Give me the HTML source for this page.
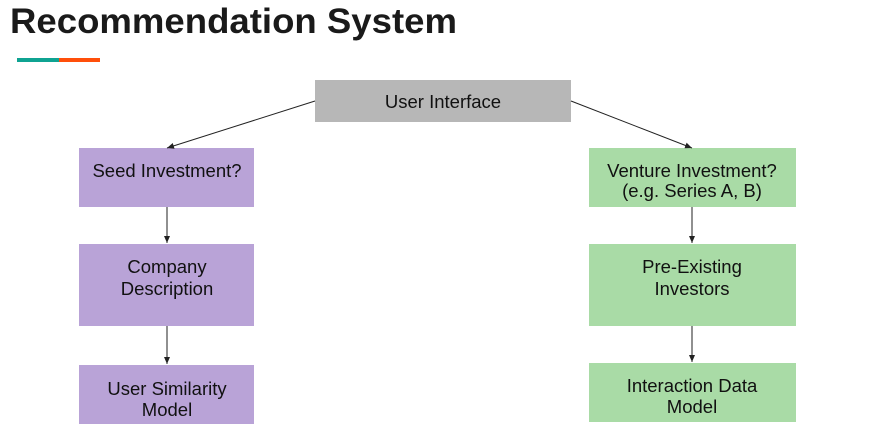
<!DOCTYPE html>
<html><head><meta charset="utf-8"><style>
html,body{margin:0;padding:0;background:#fff;}
svg{display:block;}
</style></head><body>
<svg width="875" height="446" viewBox="0 0 875 446" xmlns="http://www.w3.org/2000/svg">
<defs><marker id="a" markerWidth="8" markerHeight="8" refX="7" refY="4" orient="auto" markerUnits="userSpaceOnUse"><path d="M0,1 L7,4 L0,7 z" fill="#222"/></marker></defs>
<text x="10" y="33" font-family="Liberation Sans, sans-serif" font-weight="bold" font-size="35" fill="#1a1a1a" textLength="447" lengthAdjust="spacingAndGlyphs">Recommendation System</text>
<rect x="17" y="58" width="42" height="4" fill="#0fa392"/>
<rect x="59" y="58" width="41" height="4" fill="#ff4f0a"/>
<rect x="315" y="80" width="256" height="42" fill="#b7b7b7"/>
<rect x="79" y="148" width="175" height="59" fill="#b9a3d7"/>
<rect x="79" y="244" width="175" height="82" fill="#b9a3d7"/>
<rect x="79" y="365" width="175" height="59" fill="#b9a3d7"/>
<rect x="589" y="148" width="207" height="59" fill="#a9dba6"/>
<rect x="589" y="244" width="207" height="82" fill="#a9dba6"/>
<rect x="589" y="363" width="207" height="59" fill="#a9dba6"/>
<g stroke="#222" stroke-width="1" marker-end="url(#a)">
<line x1="315" y1="101" x2="167" y2="148"/>
<line x1="571" y1="101" x2="692" y2="148"/>
<line x1="167" y1="207" x2="167" y2="243"/>
<line x1="167" y1="326" x2="167" y2="364"/>
<line x1="692" y1="207" x2="692" y2="243"/>
<line x1="692" y1="326" x2="692" y2="362"/>
</g>
<g font-family="Liberation Sans, sans-serif" font-size="18.5" fill="#111" text-anchor="middle">
<text x="443" y="108">User Interface</text>
<text x="167" y="177">Seed Investment?</text>
<text x="167" y="273">Company</text>
<text x="167" y="295">Description</text>
<text x="167" y="395">User Similarity</text>
<text x="167" y="416">Model</text>
<text x="692" y="177">Venture Investment?</text>
<text x="692" y="197">(e.g. Series A, B)</text>
<text x="692" y="273">Pre-Existing</text>
<text x="692" y="295">Investors</text>
<text x="692" y="392">Interaction Data</text>
<text x="692" y="413">Model</text>
</g>
</svg>
</body></html>
